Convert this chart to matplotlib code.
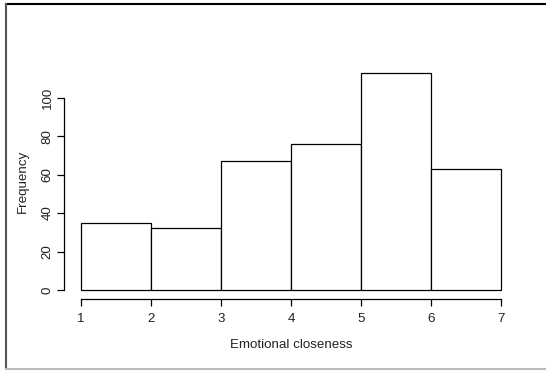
import matplotlib
matplotlib.use("Agg")
import matplotlib.pyplot as plt
from matplotlib.lines import Line2D

bin_edges = [1, 2, 3, 4, 5, 6, 7]
counts = [35, 32, 67, 76, 113, 63]
x_ticks = [1, 2, 3, 4, 5, 6, 7]
y_ticks = [0, 20, 40, 60, 80, 100]

plt.rcParams['font.family'] = ['Liberation Sans', 'DejaVu Sans']

W, H = 546, 370
fig = plt.figure(figsize=(W / 100, H / 100), dpi=100)

# screenshot frame
fig.add_artist(Line2D([6 / W, 1], [1 - 4 / H, 1 - 4 / H], color='black', lw=1.5))
fig.add_artist(Line2D([6 / W, 6 / W], [0, 1 - 4 / H], color='#555555', lw=1.5))
fig.add_artist(Line2D([6 / W, 1], [1 / H, 1 / H], color='#bbbbbb', lw=1.5))

ax = fig.add_axes([64.2 / W, (H - 298.7) / H, (517.8 - 64.2) / W, (298.7 - 64) / H])
xr = bin_edges[-1] - bin_edges[0]
ax.set_xlim(bin_edges[0] - 0.04 * xr, bin_edges[-1] + 0.04 * xr)
ym = max(counts)
ax.set_ylim(-0.04 * ym, ym * 1.04)

widths = [bin_edges[i + 1] - bin_edges[i] for i in range(len(counts))]
ax.bar(bin_edges[:-1], counts, width=widths, align='edge', facecolor='white',
       edgecolor='black', linewidth=0.9)

for s in ['top', 'right']:
    ax.spines[s].set_visible(False)
ax.spines['left'].set_bounds(y_ticks[0], y_ticks[-1])
ax.spines['bottom'].set_bounds(x_ticks[0], x_ticks[-1])
for s in ['left', 'bottom']:
    ax.spines[s].set_linewidth(0.9)

ax.set_xticks(x_ticks)
ax.set_yticks(y_ticks)
ax.tick_params(axis='both', length=5, width=0.9, labelsize=9.6, labelcolor='#222222')
ax.tick_params(axis='x', pad=5)
ax.tick_params(axis='y', pad=2.5)
for lab in ax.get_yticklabels():
    lab.set_rotation(90)
    lab.set_va('center')

ax.set_xlabel('Emotional closeness', fontsize=9.6, labelpad=10.5, color='#222222')
ax.set_ylabel('Frequency', fontsize=9.6, labelpad=9, color='#222222')

fig.savefig('out.png', dpi=100)
